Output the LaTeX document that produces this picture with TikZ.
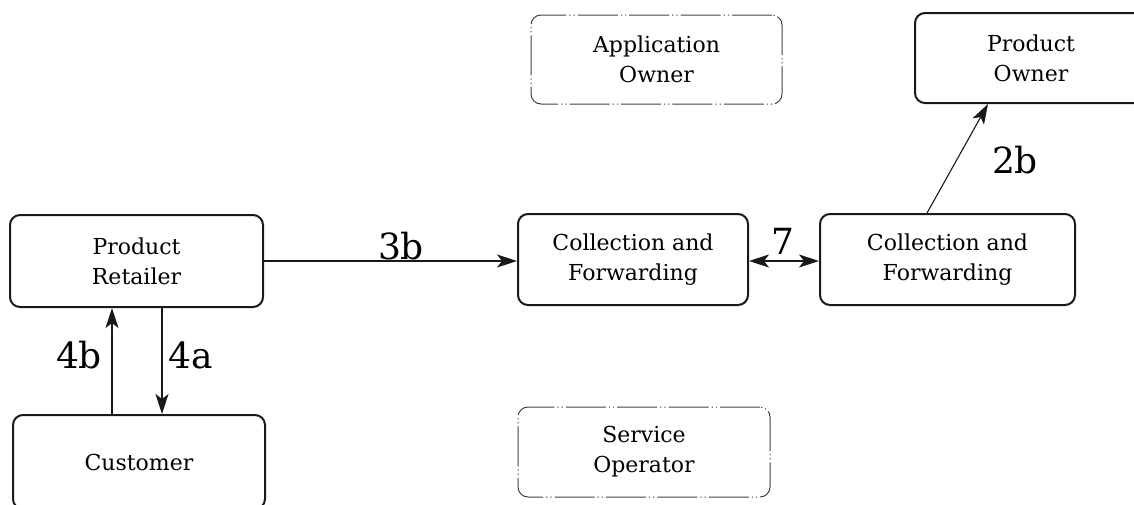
\documentclass[tikz,border=0pt]{standalone}
\usepackage{fontspec}
\setmainfont{DejaVu Serif}
\usetikzlibrary{arrows.meta}
\begin{document}
\begin{tikzpicture}[x=1pt,y=-1pt,
  tip/.tip={Stealth[length=20pt,width=13pt,inset=5pt]},
  box/.style={draw=black!90, line width=2pt, rounded corners=10pt, align=center,
    inner sep=0pt, font=\fontsize{22}{30}\selectfont, text=black},
  dashbox/.style={box, line width=1pt, draw=black!75,
    dash pattern=on 40pt off 3pt on 1.2pt off 3pt on 1.2pt off 3pt},
  flow/.style={draw=black!90, line width=1.1pt, -tip},
  both/.style={flow, tip-tip},
  lbl/.style={font=\fontsize{36}{36}\selectfont, text=black, inner sep=0pt}]
\useasboundingbox (0,0) rectangle (1134,504);
\clip (0,0) rectangle (1134,504);

% nodes
\node[box, minimum width=253pt, minimum height=92pt] (retailer) at (136.5,261) {Product\\Retailer};
\node[box, minimum width=252pt, minimum height=94pt] (customer) at (139,462) {Customer};
\node[box, minimum width=230pt, minimum height=91pt] (cf1) at (633,259.5) {Collection and\\Forwarding};
\node[box, minimum width=255pt, minimum height=91pt] (cf2) at (947.5,259.5) {Collection and\\Forwarding};
\node[box, minimum width=232pt, minimum height=90pt] (powner) at (1031,58) {Product\\Owner};
\node[dashbox, minimum width=251pt, minimum height=89pt] (aowner) at (656.5,59.5) {Application\\Owner};
\node[dashbox, minimum width=252pt, minimum height=90pt] (soperator) at (644,452) {Service\\Operator};

% connectors
\draw[flow] (retailer.east |- 0,261) -- (cf1.west |- 0,261);
\draw[both] (cf1.east |- 0,261) -- (cf2.west |- 0,261);
\draw[flow] (cf2.north -| 927,0) -- (powner.south -| 988,0);
\draw[flow] (customer.north -| 112,0) -- (retailer.south -| 112,0);
\draw[flow] (retailer.south -| 162,0) -- (customer.north -| 162,0);

% labels
\node[lbl] (l3b) at (401,246) {3b};
\node[lbl] (l7) at (783,241) {7};
\node[lbl] (l2b) at (1015,160) {2b};
\node[lbl] (l4b) at (79,355) {4b};
\node[lbl] (l4a) at (191,355) {4a};
\end{tikzpicture}
\end{document}
